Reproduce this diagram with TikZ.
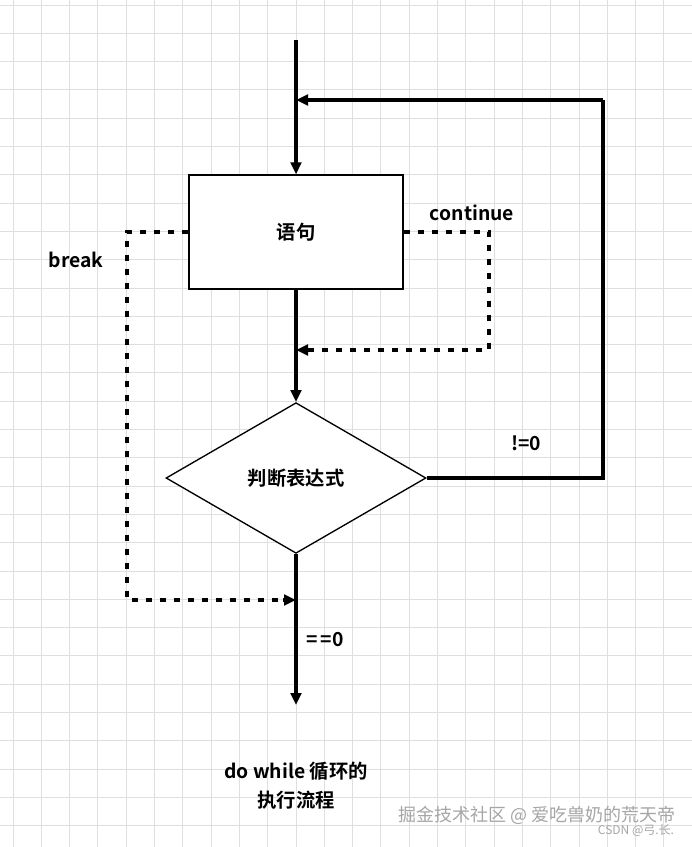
\documentclass[tikz,border=0pt]{standalone}
\usepackage{fontspec}
\setmainfont{Noto Sans CJK SC}[BoldFont={* Bold}]
\usetikzlibrary{shapes.geometric,arrows.meta}
\begin{document}
\begin{tikzpicture}[x=0.75pt,y=-0.75pt,
  flow/.style={line width=2.6pt,-{Triangle[length=9pt,width=8pt]}},
  flowp/.style={line width=2.6pt},
  dashln/.style={line width=2.6pt,dash pattern=on 4.5pt off 6pt},
  lbl/.style={font=\bfseries\fontsize{14.5}{22}\selectfont},
  box/.style={draw,line width=1pt,fill=white}]
\fill[white] (0,0) rectangle (692,847);
\useasboundingbox (0,0) rectangle (692,847);
\foreach \i in {0,...,24} \draw[gray!25,line width=0.7pt] (13+28.3*\i,0) -- (13+28.3*\i,847);
\foreach \i in {0,...,30} \draw[gray!25,line width=0.7pt] (0,5+28.3*\i) -- (692,5+28.3*\i);
\coordinate (start) at (296,40);
\node[box,minimum width=160.5pt,minimum height=85.5pt,lbl] (stmt) at (296,232) {语句};
\node[box,diamond,minimum width=195pt,minimum height=113pt,inner sep=0pt,aspect=1.72,lbl] (cond) at (296,478) {判断表达式};
\coordinate (fb) at (296,100);
\coordinate (cj) at (296,350);
\coordinate (bj) at (296,600);
\coordinate (endp) at (296,705);
\draw[flow] (start) -- (stmt.north);
\draw[flow] (stmt.south) -- (cond.north);
\draw[flow] (cond.south) -- (endp);
\draw[flowp] (cond.east) -- (603,478) -- (603,100);
\draw[flow] (603,100) -- (fb);
\draw[dashln] (stmt.east) -- (489,232) -- (489,350) -- (308,350);
\draw[flow] (309,350) -- (cj);
\draw[dashln] (stmt.west) -- (127,232) -- (127,600) -- (284,600);
\draw[flow] (283,600) -- (bj);
\node[lbl] (lc) at (472,213) {continue};
\node[lbl] (lb) at (76,260) {break};
\node[lbl] (ln) at (526,443) {!=0};
\node[lbl] (lz) at (325,640) {=\,=0};
\node[lbl,align=center] (cap) at (296,786) {do while 循环的\\执行流程};
\node[font=\fontsize{13.5}{16}\selectfont,text=gray!70] (wm1) at (537,815) {掘金技术社区 @ 爱吃兽奶的荒天帝};
\node[font=\fontsize{9}{10}\selectfont,text=gray!70] (wm2) at (636,831) {CSDN @弓.长.};
\end{tikzpicture}
\end{document}
